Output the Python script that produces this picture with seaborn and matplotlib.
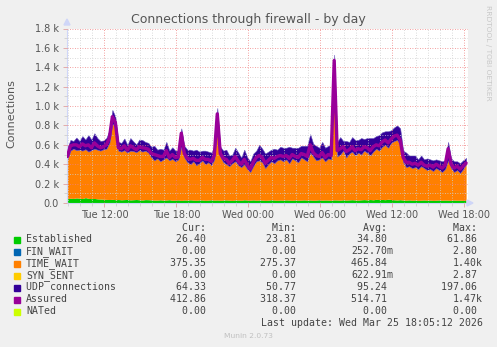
import numpy as np
import pandas as pd
import matplotlib
matplotlib.use("Agg")
import matplotlib.pyplot as plt
import matplotlib.dates as mdates
from matplotlib.ticker import FixedLocator, MultipleLocator
import seaborn as sns

# ---------------- data (15-minute samples, Tue 08:55 .. Wed 18:10) ----------------
start_time = "2026-03-24 08:55"
sample_freq = "15min"

established = [44, 50, 47, 53, 49, 46, 56, 48, 45, 47, 43, 41, 39,
               37, 36, 38, 34, 36, 33, 35, 37, 32, 34, 36, 33, 31, 35, 34, 32, 30,
               30, 33, 29, 31, 34, 28, 30, 32, 27, 31,
               29, 33, 30, 28, 32, 31, 27, 30, 33, 29,
               31, 28, 30, 32, 29, 27, 31, 30, 28, 33,
               30, 29, 32, 28, 31, 30, 27, 29, 33, 30,
               28, 31, 29, 32, 30, 28, 31, 29, 30, 32,
               29, 31, 28, 30, 33, 29, 31, 30, 28, 32,
               31, 29, 33, 30, 32, 34, 31, 30, 33, 35,
               32, 36, 33, 38, 35, 37, 34, 39, 36, 33,
               31, 34, 30, 29, 32, 28, 30, 27, 29, 31,
               28, 30, 27, 29, 31, 28, 30, 29, 27, 30,
               28, 29, 27, 26]

time_wait = [406, 490, 513, 492, 501, 494, 499, 482, 500, 513, 507, 499, 516,
             523, 584, 782, 746, 504,
             497, 510, 483, 508, 501, 489, 512, 499, 505, 486,
             438, 410, 430, 397, 421, 439, 406, 427, 400, 418,
             553, 439,
             391, 367, 400, 362, 378, 409, 373, 390, 357, 421, 769, 452,
             390, 368, 351, 383, 399, 360, 342, 367, 320, 291,
             348, 402, 409, 390, 333, 371, 397, 380, 412, 419,
             401, 418, 380, 432, 409, 391, 440, 418, 401, 489, 452, 410, 417, 441, 399, 430, 422,
             1398,
             449, 471, 507, 440, 478, 496, 459, 490, 467, 505, 488, 454, 497, 522, 505,
             543, 566, 531, 584, 607, 619, 566,
             390, 341, 348, 332, 340, 323, 351, 329, 312, 320, 303, 331, 309, 292, 320, 411,
             333, 290, 312, 281, 323, 375]

udp = [120, 110, 80, 130, 90, 150, 100, 170, 110, 160, 120, 100, 90,
       110, 130, 140, 110, 90,
       90, 120, 80, 130, 100, 80, 110, 120, 90, 100,
       110, 150, 90, 130, 100, 160, 100, 120, 110, 90,
       190, 120,
       130, 150, 110, 160, 120, 100, 140, 110, 130, 120, 180, 100,
       120, 150, 110, 90, 140, 130, 100, 150, 120, 110,
       130, 110, 160, 140, 150, 130, 120, 150, 110, 130,
       140, 120, 170, 110, 130, 150, 120, 140, 160, 190, 130, 150, 120, 160, 140, 130, 150,
       100,
       150, 180, 100, 170, 120, 150, 160, 130, 170, 120, 150, 180, 140, 130, 160,
       150, 140, 170, 130, 140, 150, 170,
       120, 150, 110, 130, 120, 100, 110, 90, 120, 100, 110, 90, 100, 110, 90, 190,
       100, 110, 90, 100, 90, 64]

assured = [480, 590, 600, 600, 580, 610, 590, 600, 570, 620, 590, 570, 580,
           600, 670, 890, 830, 570,
           560, 590, 545, 590, 570, 550, 580, 570, 565, 555,
           510, 500, 490, 480, 480, 540, 470, 500, 470, 475,
           720, 510,
           460, 450, 460, 440, 440, 470, 450, 450, 430, 490, 920, 510,
           460, 450, 410, 440, 480, 430, 400, 450, 390, 350,
           420, 470, 490, 470, 410, 440, 470, 460, 480, 490,
           480, 490, 460, 500, 480, 470, 510, 500, 480, 600, 520, 490, 480, 520, 470, 500, 490,
           1470,
           540, 560, 580, 530, 550, 580, 540, 560, 550, 580, 570, 540, 580, 600, 590,
           630, 650, 620, 660, 690, 700, 650,
           470, 420, 420, 400, 410, 390, 420, 390, 380, 390, 370, 400, 380, 360, 390, 560,
           400, 360, 380, 350, 380, 413]

series_names = ["Established", "FIN_WAIT", "TIME_WAIT", "SYN_SENT",
                "UDP connections", "Assured", "NATed"]
series_colors = ["#00CC00", "#0066B3", "#FF8000", "#FFCC00",
                 "#330099", "#990099", "#CCFF00"]
cur_vals = ["26.40 ", "0.00 ", "375.35 ", "0.00 ", "64.33 ", "412.86 ", "0.00 "]
min_vals = ["23.81 ", "0.00 ", "275.37 ", "0.00 ", "50.77 ", "318.37 ", "0.00 "]
avg_vals = ["34.80 ", "252.70m", "465.84 ", "622.91m", "95.24 ", "514.71 ", "0.00 "]
max_vals = ["61.86 ", "2.80 ", "1.40k", "2.87 ", "197.06 ", "1.47k", "0.00 "]

y_ticks = [0, 200, 400, 600, 800, 1000, 1200, 1400, 1600, 1800]
y_tick_labels = ["0.0", "0.2 k", "0.4 k", "0.6 k", "0.8 k", "1.0 k",
                 "1.2 k", "1.4 k", "1.6 k", "1.8 k"]
x_major = ["2026-03-24 12:00", "2026-03-24 18:00", "2026-03-25 00:00",
           "2026-03-25 06:00", "2026-03-25 12:00", "2026-03-25 18:00"]
x_range = ["2026-03-24 08:53", "2026-03-25 18:18"]

title = "Connections through firewall - by day"
ylabel = "Connections"
last_update = "Last update: Wed Mar 25 18:05:12 2026"

# ---------------- figure ----------------
sns.set_theme(style="white")
plt.rcParams["font.family"] = ["DejaVu Sans"]

W, H = 497, 347
fig = plt.figure(figsize=(W / 100, H / 100), dpi=100, facecolor="#F0F0F0")
ax = fig.add_axes([67 / W, 1 - 203 / H, 400.7 / W, 174.5 / H])
ax.set_facecolor("white")

times = pd.date_range(start_time, periods=len(time_wait), freq=sample_freq)
df = pd.DataFrame({"time": times, "Established": established,
                   "TIME_WAIT": time_wait, "UDP": udp, "Assured": assured})

base0 = np.zeros(len(df))
top1 = df["Established"].to_numpy(float)
top2 = top1 + df["TIME_WAIT"].to_numpy(float)
top3 = top2 + df["UDP"].to_numpy(float)
ax.fill_between(df["time"], base0, top1, color=series_colors[0], lw=0, zorder=2)
ax.fill_between(df["time"], top1, top2, color=series_colors[2], lw=0, zorder=2)
ax.fill_between(df["time"], top2, top3, color=series_colors[4], lw=0.4,
                edgecolor="#6655BB", zorder=2)
sns.lineplot(data=df, x="time", y="Assured", ax=ax, color=series_colors[5],
             lw=2.4, zorder=3)

ax.set_xlim(pd.Timestamp(x_range[0]), pd.Timestamp(x_range[1]))
ax.set_ylim(0, 1800)
ax.set_xlabel("")
ax.set_ylabel("")

# grid (drawn over data, like rrdtool)
ax.xaxis.set_major_locator(FixedLocator(mdates.date2num(pd.to_datetime(x_major))))
ax.xaxis.set_minor_locator(mdates.HourLocator())
ax.xaxis.set_major_formatter(mdates.DateFormatter("%a %H:%M"))
ax.yaxis.set_major_locator(FixedLocator(y_ticks))
ax.yaxis.set_minor_locator(MultipleLocator(100))
ax.set_yticklabels(y_tick_labels)
ax.grid(which="minor", color="#CFCFCF", lw=0.6, ls=(0, (1, 2)), zorder=4)
ax.grid(which="major", color="#F08080", lw=0.6, ls=(0, (1, 2)), zorder=5)
ax.set_axisbelow(False)

ax.tick_params(axis="both", which="major", labelsize=7, labelcolor="#555555",
               color="#E0A0A0", length=3, width=0.6, direction="out", pad=3,
               left=True, bottom=True)
ax.tick_params(axis="both", which="minor", length=2, width=0.5, color="#C8C8C8",
               left=True, bottom=True)
ax.tick_params(axis="x", which="major", pad=2)

for s in ["top", "right"]:
    ax.spines[s].set_visible(False)
ax.spines["left"].set_color("#CFD6F8")
ax.spines["bottom"].set_color("#CFD6F8")
ax.spines["left"].set_linewidth(0.8)
ax.spines["bottom"].set_linewidth(0.8)

# arrows at axis ends
fig.patches.append(plt.Polygon([[64 / W, 1 - 25 / H], [70 / W, 1 - 25 / H], [67 / W, 1 - 19 / H]],
                               closed=True, transform=fig.transFigure, color="#CFD6F8"))
fig.patches.append(plt.Polygon([[467 / W, 1 - 200 / H], [467 / W, 1 - 206 / H], [473 / W, 1 - 203 / H]],
                               closed=True, transform=fig.transFigure, color="#CFD6F8"))

# titles
fig.text(248 / W, 1 - 19 / H, title, ha="center", va="center", fontsize=9, color="#555555")
fig.text(11 / W, 1 - 114 / H, ylabel, ha="center", va="center", rotation=90,
         fontsize=8, color="#555555")
fig.text(488 / W, 1 - 53 / H, "RRDTOOL / TOBI OETIKER", ha="center", va="center",
         rotation=270, fontsize=5.4, color="#C8C8C8")

# legend table
mono = ["DejaVu Sans Mono"]
fs = 7.1
tc = "#444444"
hy = 228
for lab, xr in zip(["Cur:", "Min:", "Avg:", "Max:"], [212, 302, 393, 483]):
    fig.text(xr / W, 1 - hy / H, lab + " ", ha="right", va="center", family=mono,
             fontsize=fs, color=tc)
for k, name in enumerate(series_names):
    yy = 239.5 + 12.0 * k
    fig.patches.append(plt.Rectangle((14 / W, 1 - (yy + 3) / H), 6 / W, 6 / H,
                                     transform=fig.transFigure, color=series_colors[k]))
    fig.text(26 / W, 1 - yy / H, name, ha="left", va="center", family=mono,
             fontsize=fs, color=tc)
    for vals, xr in zip([cur_vals, min_vals, avg_vals, max_vals], [212, 302, 393, 483]):
        fig.text(xr / W, 1 - yy / H, vals[k], ha="right", va="center", family=mono,
                 fontsize=fs, color=tc)
fig.text(483 / W, 1 - 323.5 / H, last_update, ha="right", va="center", family=mono,
         fontsize=fs, color=tc)
fig.text(248 / W, 1 - 336 / H, "Munin 2.0.73", ha="center", va="center",
         fontsize=5.4, color="#C0C0C0")

fig.savefig("out.png", dpi=100, facecolor=fig.get_facecolor())
